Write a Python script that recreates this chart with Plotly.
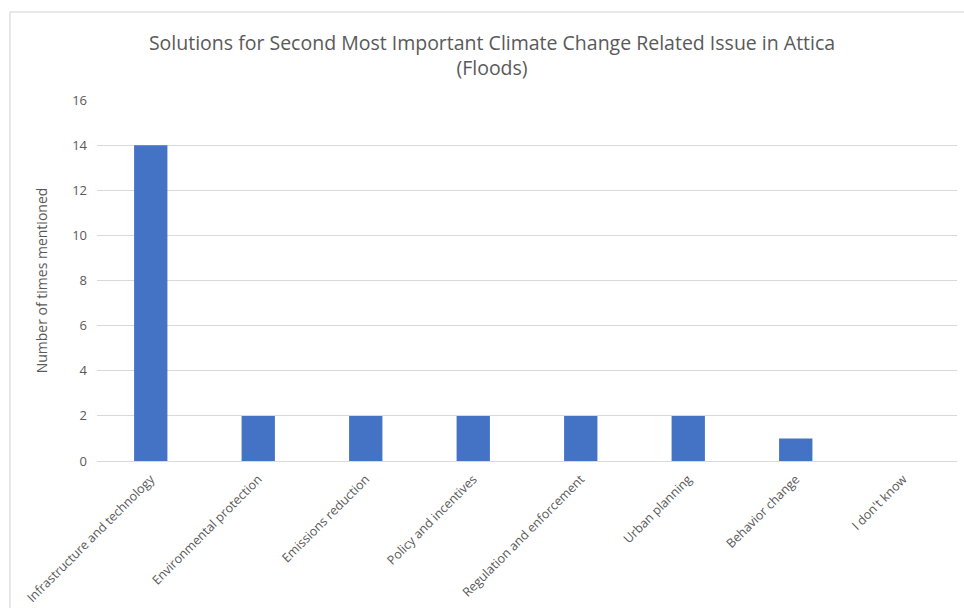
import plotly.graph_objects as go

categories = [
    "Infrastructure and technology",
    "Environmental protection",
    "Emissions reduction",
    "Policy and incentives",
    "Regulation and enforcement",
    "Urban planning",
    "Behavior change",
    "I don't know",
]
mentions = [14, 2, 2, 2, 2, 2, 1, 0]
y_ticks = [0, 2, 4, 6, 8, 10, 12, 14, 16]

FONT = "Open Sans"
GREY = "#595959"

fig = go.Figure(
    go.Bar(
        x=categories,
        y=mentions,
        marker=dict(color="#4472C4", line=dict(width=0)),
        width=0.31,
        hoverinfo="x+y",
    )
)

fig.update_layout(
    width=964,
    height=608,
    margin=dict(l=97, r=7, t=100, b=147),
    paper_bgcolor="white",
    plot_bgcolor="white",
    showlegend=False,
    title=dict(
        text="Solutions for Second Most Important Climate Change Related Issue in Attica<br>(Floods)",
        x=0.5104,
        xref="container",
        xanchor="center",
        y=0.918,
        yanchor="top",
        font=dict(family=FONT, size=19.5, color=GREY),
    ),
    font=dict(family=FONT, size=12, color=GREY),
)

fig.update_xaxes(
    tickangle=-45,
    tickfont=dict(family=FONT, size=12.5, color=GREY),
    ticklabelstandoff=5,
    automargin=False,
    showline=True,
    linecolor="#d9d9d9",
    linewidth=1,
    showgrid=False,
    ticks="",
)

fig.update_yaxes(
    range=[0, 16],
    tickvals=y_ticks,
    tickfont=dict(family=FONT, size=13, color=GREY),
    ticklabelstandoff=9,
    automargin=False,
    showgrid=True,
    gridcolor="#d9d9d9",
    gridwidth=1,
    zeroline=False,
    showline=False,
    ticks="",
    title=dict(text="Number of times mentioned", font=dict(family=FONT, size=14, color=GREY), standoff=21),
)

# chart frame
fig.add_shape(
    type="rect",
    xref="paper",
    yref="paper",
    x0=-0.1012,
    x1=1.2,
    y0=-0.6,
    y1=1.2438,
    line=dict(color="#d0d0d0", width=1),
    fillcolor="rgba(0,0,0,0)",
    layer="below",
)

fig.write_html("out.html")
